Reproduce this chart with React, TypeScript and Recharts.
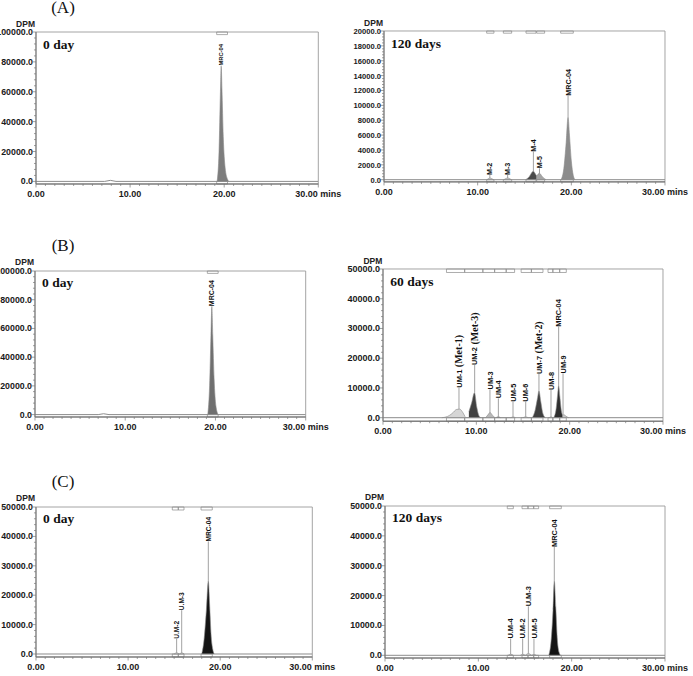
import React from "react";
import {
  Area,
  ComposedChart,
  Line,
  ReferenceArea,
  ReferenceLine,
  Scatter,
  XAxis,
  YAxis,
} from "recharts";

type Pt = [number, number];
type PeakLabel = { name: string; met?: string; t: number; apex: number; at: number };
type Peak = { pts: Pt[]; fill: string };

const X_TICKS = [0, 10, 20, 30];
const X_TICK_TEXT: Record<number, string> = { 0: "0.00", 10: "10.00", 20: "20.00", 30: "30.00 mins" };

// (A) 0 day
const A0_YTICKS = [0, 20000, 40000, 60000, 80000, 100000];
const A0_BASE: Pt[] = [[0, 0], [7.3, 0], [7.9, 700], [8.5, 0], [30, 0]];
const A0_MRC: Pt[] = [[19.25, 0], [19.45, 20000], [19.6, 60000], [19.68, 77000], [19.76, 62000], [19.9, 30000], [20.1, 9000], [20.35, 1500], [20.5, 0]];
const A0_LABELS: PeakLabel[] = [{ name: "MRC-04", t: 19.68, apex: 77000, at: 77500 }];
const A0_BRACKETS: Pt[] = [[19.2, 20.35]];

// (A) 120 days
const A120_YTICKS = [0, 2000, 4000, 6000, 8000, 10000, 12000, 14000, 16000, 18000, 20000];
const A120_BASE: Pt[] = [[0, 0], [30, 0]];
const A120_M2: Pt[] = [[11.0, 0], [11.3, 220], [11.7, 0]];
const A120_M3: Pt[] = [[12.8, 0], [13.2, 220], [13.6, 0]];
const A120_M4: Pt[] = [[15.1, 0], [15.5, 400], [15.8, 1000], [15.95, 1150], [16.1, 900], [16.3, 500]];
const A120_M5: Pt[] = [[16.3, 500], [16.6, 850], [16.9, 400], [17.3, 0]];
const A120_MRC: Pt[] = [[18.9, 0], [19.2, 1500], [19.45, 5000], [19.65, 8400], [19.8, 6000], [20.0, 2500], [20.2, 600], [20.4, 0]];
const A120_LABELS: PeakLabel[] = [
  { name: "M-2", t: 11.3, apex: 220, at: 630 },
  { name: "M-3", t: 13.2, apex: 220, at: 630 },
  { name: "M-4", t: 15.95, apex: 1150, at: 3770 },
  { name: "M-5", t: 16.6, apex: 850, at: 1530 },
  { name: "MRC-04", t: 19.65, apex: 8400, at: 11300 },
];
const A120_BRACKETS: Pt[] = [[10.96, 11.74], [12.74, 13.63], [15.16, 16.23], [16.3, 17.15], [18.86, 20.21]];

// (B) 0 day
const B0_YTICKS = [0, 20000, 40000, 60000, 80000, 100000];
const B0_BASE: Pt[] = [[0, 0], [7.0, 0], [7.6, 600], [8.2, 0], [30, 0]];
const B0_MRC: Pt[] = [[19.15, 0], [19.35, 20000], [19.5, 55000], [19.6, 75000], [19.7, 55000], [19.85, 25000], [20.05, 6000], [20.3, 0]];
const B0_LABELS: PeakLabel[] = [{ name: "MRC-04", t: 19.6, apex: 75000, at: 75500 }];
const B0_BRACKETS: Pt[] = [[19.1, 20.3]];

// (B) 60 days
const B60_YTICKS = [0, 10000, 20000, 30000, 40000, 50000];
const B60_BASE: Pt[] = [[0, 0], [30, 0]];
const B60_UM1: Pt[] = [[6.3, 0], [6.9, 400], [7.4, 1400], [7.9, 2800], [8.2, 2900], [8.5, 2000], [8.8, 300], [9.0, 0]];
const B60_UM2: Pt[] = [[8.9, 0], [9.2, 2000], [9.5, 5000], [9.8, 8400], [10.05, 3500], [10.3, 500], [10.5, 0]];
const B60_UM3: Pt[] = [[11.0, 0], [11.3, 1200], [11.46, 1800], [11.7, 900], [12.0, 0]];
const B60_UM4: Pt[] = [[12.1, 0], [12.36, 350], [12.6, 0]];
const B60_UM5: Pt[] = [[13.7, 0], [13.93, 250], [14.2, 0]];
const B60_UM6: Pt[] = [[15.0, 0], [15.29, 300], [15.55, 0]];
const B60_UM7: Pt[] = [[16.0, 0], [16.3, 2500], [16.55, 6500], [16.71, 9100], [16.9, 5500], [17.15, 1200], [17.4, 0]];
const B60_UM8: Pt[] = [[17.8, 0], [18.0, 300], [18.2, 0]];
const B60_MRC: Pt[] = [[18.3, 0], [18.55, 3000], [18.72, 8000], [18.82, 10800], [18.95, 7000], [19.1, 2500], [19.25, 800]];
const B60_UM9: Pt[] = [[19.25, 800], [19.4, 1000], [19.6, 500], [19.9, 0]];
const B60_LABELS: PeakLabel[] = [
  { name: "UM-1", met: "Met-1", t: 8.14, apex: 2900, at: 10100 },
  { name: "UM-2", met: "Met-3", t: 9.82, apex: 8400, at: 17700 },
  { name: "UM-3", t: 11.46, apex: 1800, at: 9500 },
  { name: "UM-4", t: 12.36, apex: 350, at: 6500 },
  { name: "UM-5", t: 13.93, apex: 250, at: 5400 },
  { name: "UM-6", t: 15.29, apex: 300, at: 5400 },
  { name: "UM-7", met: "Met-2", t: 16.71, apex: 9100, at: 14700 },
  { name: "UM-8", t: 18.0, apex: 300, at: 9300 },
  { name: "MRC-04", t: 18.82, apex: 10800, at: 30600 },
  { name: "UM-9", t: 19.29, apex: 950, at: 14900 },
];
const B60_BRACKETS: Pt[] = [[6.8, 8.75], [8.75, 10.7], [10.7, 11.96], [11.96, 13.2], [13.2, 14.1], [14.8, 15.9], [15.9, 17.14], [17.68, 18.2], [18.2, 18.93], [18.93, 19.64]];

// (C) 0 day
const C0_YTICKS = [0, 10000, 20000, 30000, 40000, 50000];
const C0_BASE: Pt[] = [[0, 0], [30, 0]];
const C0_UM2: Pt[] = [[15.0, 0], [15.27, 400], [15.55, 0]];
const C0_UM3: Pt[] = [[15.6, 0], [15.82, 400], [16.1, 0]];
const C0_MRC: Pt[] = [[18.0, 0], [18.25, 5000], [18.5, 15000], [18.71, 24800], [18.85, 17000], [19.0, 7000], [19.2, 1500], [19.35, 0]];
const C0_LABELS: PeakLabel[] = [
  { name: "U.M-2", t: 15.27, apex: 400, at: 5200 },
  { name: "U.M-3", t: 15.82, apex: 400, at: 14900 },
  { name: "MRC-04", t: 18.71, apex: 24800, at: 38300 },
];
const C0_BRACKETS: Pt[] = [[14.8, 15.45], [15.45, 16.07], [17.92, 19.14]];

// (C) 120 days
const C120_YTICKS = [0, 10000, 20000, 30000, 40000, 50000];
const C120_BASE: Pt[] = [[0, 0], [30, 0]];
const C120_UM4: Pt[] = [[13.2, 0], [13.46, 350], [13.75, 0]];
const C120_UM2: Pt[] = [[14.5, 0], [14.75, 350], [15.0, 0]];
const C120_UM3: Pt[] = [[15.05, 0], [15.36, 600], [15.7, 0]];
const C120_UM5: Pt[] = [[15.75, 0], [15.96, 300], [16.2, 0]];
const C120_MRC: Pt[] = [[17.55, 0], [17.8, 5000], [18.0, 15000], [18.14, 24900], [18.3, 16000], [18.45, 6000], [18.65, 1000], [18.8, 0]];
const C120_LABELS: PeakLabel[] = [
  { name: "U.M-4", t: 13.46, apex: 350, at: 5600 },
  { name: "U.M-2", t: 14.75, apex: 350, at: 5600 },
  { name: "U.M-3", t: 15.36, apex: 600, at: 16400 },
  { name: "U.M-5", t: 15.96, apex: 300, at: 5600 },
  { name: "MRC-04", t: 18.14, apex: 24900, at: 36300 },
];
const C120_BRACKETS: Pt[] = [[13.1, 13.75], [14.68, 15.32], [15.32, 15.93], [15.93, 16.46], [17.64, 18.89]];

type Panel = {
  title: string;
  max: number;
  yTicks: number[];
  base: Pt[];
  peaks: Peak[];
  labels: PeakLabel[];
  brackets: Pt[];
  box: { L: number; R: number; T: number; Z: number; B: number };
  labelSize: number;
  yFont: number;
};

const LIGHT = "#cfcfcf";
const PANELS: Panel[] = [
  {
    title: "0 day", max: 100000, yTicks: A0_YTICKS, base: A0_BASE,
    peaks: [{ pts: A0_MRC, fill: "#7d7d7d" }],
    labels: A0_LABELS, brackets: A0_BRACKETS,
    box: { L: 36, R: 318.3, T: 32.3, Z: 181.7, B: 184.3 }, labelSize: 5.8, yFont: 8.8,
  },
  {
    title: "120 days", max: 20000, yTicks: A120_YTICKS, base: A120_BASE,
    peaks: [
      { pts: A120_M2, fill: LIGHT }, { pts: A120_M3, fill: LIGHT },
      { pts: A120_M4, fill: "#4a4a4a" }, { pts: A120_M5, fill: "#a5a5a5" },
      { pts: A120_MRC, fill: "#8c8c8c" },
    ],
    labels: A120_LABELS, brackets: A120_BRACKETS,
    box: { L: 384, R: 665, T: 31, Z: 179.7, B: 181.9 }, labelSize: 7.2, yFont: 7.6,
  },
  {
    title: "0 day", max: 100000, yTicks: B0_YTICKS, base: B0_BASE,
    peaks: [{ pts: B0_MRC, fill: "#6f6f6f" }],
    labels: B0_LABELS, brackets: B0_BRACKETS,
    box: { L: 35, R: 305.7, T: 270.7, Z: 414.3, B: 416.7 }, labelSize: 7, yFont: 8.8,
  },
  {
    title: "60 days", max: 50000, yTicks: B60_YTICKS, base: B60_BASE,
    peaks: [
      { pts: B60_UM1, fill: "#d6d6d6" }, { pts: B60_UM2, fill: "#414141" },
      { pts: B60_UM3, fill: "#b8b8b8" }, { pts: B60_UM4, fill: "#555555" },
      { pts: B60_UM5, fill: LIGHT }, { pts: B60_UM6, fill: LIGHT },
      { pts: B60_UM7, fill: "#3f3f3f" }, { pts: B60_UM8, fill: LIGHT },
      { pts: B60_MRC, fill: "#2e2e2e" }, { pts: B60_UM9, fill: "#c8c8c8" },
    ],
    labels: B60_LABELS, brackets: B60_BRACKETS,
    box: { L: 383.3, R: 663.3, T: 269, Z: 417.7, B: 421.2 }, labelSize: 7.4, yFont: 9,
  },
  {
    title: "0 day", max: 50000, yTicks: C0_YTICKS, base: C0_BASE,
    peaks: [{ pts: C0_UM2, fill: LIGHT }, { pts: C0_UM3, fill: LIGHT }, { pts: C0_MRC, fill: "#141414" }],
    labels: C0_LABELS, brackets: C0_BRACKETS,
    box: { L: 36, R: 312.3, T: 506.7, Z: 653.7, B: 656.7 }, labelSize: 6.6, yFont: 8.8,
  },
  {
    title: "120 days", max: 50000, yTicks: C120_YTICKS, base: C120_BASE,
    peaks: [
      { pts: C120_UM4, fill: LIGHT }, { pts: C120_UM2, fill: LIGHT },
      { pts: C120_UM3, fill: LIGHT }, { pts: C120_UM5, fill: LIGHT },
      { pts: C120_MRC, fill: "#141414" },
    ],
    labels: C120_LABELS, brackets: C120_BRACKETS,
    box: { L: 385, R: 665, T: 505.7, Z: 655, B: 657.7 }, labelSize: 7.4, yFont: 8.8,
  },
];

const SANS = "'Liberation Sans', Arial, sans-serif";
const SERIF = "'Liberation Serif', 'Times New Roman', serif";

function buildRows(base: Pt[], peaks: Peak[]) {
  const map = new Map<number, Record<string, number>>();
  const put = (t: number, k: string, v: number) => {
    const row = map.get(t) ?? { t };
    row[k] = v;
    map.set(t, row);
  };
  base.forEach(([t, v]) => put(t, "base", v));
  peaks.forEach((p, i) => p.pts.forEach(([t, v]) => put(t, "p" + i, v)));
  return [...map.values()].sort((a, b) => a.t - b.t);
}

function Chromatogram({ p }: { p: Panel }) {
  const { L, R, T, Z, B } = p.box;
  const yMin = -((B - Z) / (Z - T)) * p.max;
  const margin = { top: 8, right: 44, bottom: 2, left: 0 };
  const YW = 46;
  const XH = 22;
  const width = YW + (R - L) + margin.right;
  const height = margin.top + (B - T) + XH + margin.bottom;
  const axisX = YW;
  const axisY = margin.top + (B - T);
  const rows = buildRows(p.base, p.peaks);

  const step = p.yTicks[1] - p.yTicks[0];
  const yAll: number[] = [];
  for (let v = 0; v <= p.max + 1e-6; v += step / 5) yAll.push(Math.round(v));
  const xAll: number[] = [];
  for (let m = 0; m <= 30; m++) xAll.push(m);
  const pad = -yMin;

  const yTick = (props: any) => {
    const v = props.payload.value;
    const major = p.yTicks.includes(v);
    return (
      <g>
        <line x1={axisX - (major ? 3.5 : 2)} x2={axisX} y1={props.y} y2={props.y} stroke="#777" strokeWidth={0.7} />
        {major && (
          <text x={axisX - 3} y={props.y + 3} textAnchor="end" fontFamily={SANS} fontWeight="bold" fontSize={p.yFont} fill="#1a1a1a">
            {v.toFixed(1)}
          </text>
        )}
      </g>
    );
  };

  const xTick = (props: any) => {
    const v = props.payload.value;
    const major = X_TICKS.includes(v);
    return (
      <g>
        <line x1={props.x} x2={props.x} y1={axisY} y2={axisY + (major ? 3.5 : 2)} stroke="#777" strokeWidth={0.7} />
        {major && (
          <text x={props.x} y={axisY + 13} textAnchor="middle" fontFamily={SANS} fontWeight="bold" fontSize={9} fill="#1a1a1a">
            {X_TICK_TEXT[v]}
          </text>
        )}
      </g>
    );
  };

  const peakLabel = (props: any) => {
    const { cx, cy, payload } = props;
    const fs = p.labelSize;
    return (
      <text
        transform={`translate(${cx + fs * 0.36}, ${cy}) rotate(-90)`}
        textAnchor="start"
        fontFamily={SANS}
        fontWeight="bold"
        fontSize={fs}
        fill="#111"
      >
        {payload.name}
        {payload.met && (
          <tspan fontFamily={SERIF} fontSize={10} dy={0.8}>{` (${payload.met})`}</tspan>
        )}
      </text>
    );
  };

  return (
    <div style={{ position: "absolute", left: L - YW, top: T - margin.top }}>
      <ComposedChart width={width} height={height} data={rows} margin={margin}>
        <XAxis
          dataKey="t"
          type="number"
          domain={[0, 30]}
          allowDataOverflow
          ticks={xAll}
          interval={0}
          height={XH}
          tickLine={false}
          axisLine={{ stroke: "#666", strokeWidth: 1 }}
          tick={xTick}
        />
        <YAxis
          type="number"
          domain={[yMin, p.max]}
          allowDataOverflow
          ticks={yAll}
          interval={0}
          width={YW}
          tickLine={false}
          axisLine={{ stroke: "#777", strokeWidth: 1 }}
          tick={yTick}
        />
        <ReferenceArea x1={0} x2={30} y1={yMin} y2={p.max} fill="none" stroke="#9a9a9a" strokeWidth={0.9} />
        {p.brackets.map(([a, b], i) => (
          <ReferenceArea key={"bt" + i} x1={a} x2={b} y1={p.max - pad} y2={p.max} fill="none" stroke="#8a8a8a" strokeWidth={0.7} />
        ))}
        {p.brackets.map(([a, b], i) => (
          <ReferenceArea key={"bb" + i} x1={a} x2={b} y1={yMin} y2={0} fill="none" stroke="#8a8a8a" strokeWidth={0.7} />
        ))}
        <Line dataKey="base" type="linear" stroke="#8c8c8c" strokeWidth={1} dot={false} activeDot={false} connectNulls isAnimationActive={false} />
        {p.peaks.map((pk, i) => (
          <Area
            key={"pk" + i}
            dataKey={"p" + i}
            type="monotone"
            baseValue={0}
            fill={pk.fill}
            fillOpacity={1}
            stroke="#8a8a8a"
            strokeWidth={0.6}
            dot={false}
            activeDot={false}
            isAnimationActive={false}
          />
        ))}
        {p.labels
          .filter((lb) => lb.at > lb.apex)
          .map((lb, i) => (
            <ReferenceLine
              key={"dl" + i}
              segment={[{ x: lb.t, y: lb.apex }, { x: lb.t, y: lb.at }]}
              stroke="#8a8a8a"
              strokeWidth={0.8}
            />
          ))}
        <Scatter data={p.labels} dataKey="at" shape={peakLabel} isAnimationActive={false} />
      </ComposedChart>
    </div>
  );
}

const GROUPS = [
  { text: "(A)", y: 13 },
  { text: "(B)", y: 251 },
  { text: "(C)", y: 487 },
];

export default function App() {
  return (
    <div style={{ position: "absolute", left: 0, top: 0, width: 693, height: 676, background: "#fff", overflow: "hidden" }}>
      {PANELS.map((p, i) => (
        <Chromatogram key={i} p={p} />
      ))}
      <svg width={693} height={676} style={{ position: "absolute", left: 0, top: 0, pointerEvents: "none" }}>
        {GROUPS.map((g) => (
          <text key={g.text} x={63} y={g.y} textAnchor="middle" fontFamily={SERIF} fontSize={17} fill="#111">
            {g.text}
          </text>
        ))}
        {PANELS.map((p, i) => (
          <g key={i}>
            <text x={p.box.L + 7} y={p.box.T + 16.5} fontFamily={SERIF} fontWeight="bold" fontSize={13.5} fill="#111">
              {p.title}
            </text>
            <text x={p.box.L - 1} y={p.box.T - 5.5} textAnchor="end" fontFamily={SANS} fontWeight="bold" fontSize={8.5} fill="#222">
              DPM
            </text>
          </g>
        ))}
      </svg>
    </div>
  );
}
